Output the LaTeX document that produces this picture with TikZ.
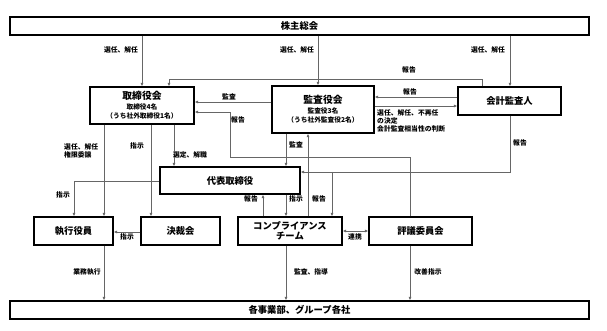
\documentclass[tikz,border=0pt]{standalone}
\usepackage{fontspec}
\setmainfont{Noto Sans CJK JP}
\usetikzlibrary{arrows.meta,calc}
\begin{document}
\begin{tikzpicture}[x=1pt,y=-1pt,
  box/.style={draw=black,line width=1.2pt,fill=white,inner sep=0pt,align=center,font=\bfseries\fontsize{9.3}{11}\selectfont},
  conn/.style={draw=black!60,line width=0.8pt},
  arr/.style={conn,-{Latex[length=3.5pt,width=3pt]}},
  darr/.style={conn,{Latex[length=3.5pt,width=3pt]}-{Latex[length=3.5pt,width=3pt]}},
  lbl/.style={font=\bfseries\fontsize{6.8}{8}\selectfont,inner sep=0pt,align=left}]
\useasboundingbox (0,0) rectangle (607,331);
% boxes
\node[box,minimum width=579pt,minimum height=18pt] (sh) at (299.5,26) {株主総会};
\node[box,minimum width=104pt,minimum height=37pt] (tb) at (142,105.5) {{\fontsize{9.8}{11}\selectfont 取締役会}\\[-1.5pt]{\fontsize{6.7}{8}\selectfont 取締役4名}\\[-1.5pt]{\fontsize{6.7}{8}\selectfont （うち社外取締役1名）}};
\node[box,minimum width=102pt,minimum height=47pt] (ka) at (323,109.5) {{\fontsize{9.8}{11}\selectfont 監査役会}\\[-1.5pt]{\fontsize{6.7}{8}\selectfont 監査役3名}\\[-1.5pt]{\fontsize{6.7}{8}\selectfont （うち社外監査役2名）}};
\node[box,minimum width=103pt,minimum height=28pt] (kk) at (509.5,101) {会計監査人};
\node[box,minimum width=140pt,minimum height=27pt] (dt) at (230,180.5) {代表取締役};
\node[box,minimum width=79pt,minimum height=28pt] (sy) at (73.5,231) {執行役員};
\node[box,minimum width=79pt,minimum height=28pt] (ks) at (180.5,231) {決裁会};
\node[box,minimum width=104pt,minimum height=28pt] (cp) at (290,231) {コンプライアンス\\[-1.5pt]チーム};
\node[box,minimum width=103pt,minimum height=28pt] (hg) at (420.5,231) {評議委員会};
\node[box,minimum width=579pt,minimum height=18pt] (bg) at (299.5,310) {各事業部、グループ各社};
% helper coordinates
\coordinate (x74) at (74,0);
\coordinate (x104) at (104,0);
\coordinate (x151) at (151,0);
\coordinate (x169) at (169,0);
\coordinate (x174) at (174,0);
\coordinate (x230) at (230,0);
\coordinate (x263) at (263,0);
\coordinate (x286) at (286,0);
\coordinate (x308) at (308,0);
\coordinate (x318) at (318,0);
\coordinate (x332) at (332,0);
\coordinate (x410) at (410,0);
\coordinate (x482) at (482,0);
\coordinate (x510) at (510,0);
\coordinate (y79) at (0,79);
\coordinate (y97) at (0,97);
\coordinate (y102) at (0,102);
\coordinate (y106) at (0,106);
\coordinate (y112) at (0,112);
\coordinate (y157) at (0,157);
\coordinate (y172) at (0,172);
\coordinate (y181) at (0,181);
\coordinate (y232) at (0,232);
% shareholders
\draw[arr] (sh.south -| tb.north) -- (tb.north);
\draw[arr] (sh.south -| x318) -- (ka.north -| x318);
\draw[arr] (sh.south -| x510) -- (kk.north -| x510);
% kk report to tb (top)
\draw[arr] (kk.north -| x482) -- (x482 |- y79) -- (x169 |- y79) -- (tb.north -| x169);
% kk <-> ka
\draw[arr] (kk.west |- y97) -- (ka.east |- y97);
\draw[arr] (ka.east |- y106) -- (kk.west |- y106);
% ka -> tb audit
\draw[arr] (ka.west |- y102) -- (tb.east |- y102);
% hg report -> tb
\draw[arr] (hg.north -| x410) -- (x410 |- y157) -- (x230 |- y157) -- (x230 |- y112) -- (tb.east |- y112);
% kk report -> dt and cp
\draw[arr] (kk.south -| x510) -- (x510 |- y172) -- (dt.east |- y172);
\draw[arr] (x332 |- y172) -- (cp.north -| x332);
% tb downward
\draw[arr] (tb.south -| x104) -- (sy.north -| x104);
\draw[arr] (tb.south -| x151) -- (ks.north -| x151);
\draw[arr] (tb.south -| x174) -- (dt.north -| x174);
% ka -> dt
\draw[arr] (ka.south -| x286) -- (dt.north -| x286);
% dt -> sy
\draw[arr] (dt.west |- y181) -- (x74 |- y181) -- (sy.north -| x74);
% ks -> sy
\draw[arr] (ks.west |- y232) -- (sy.east |- y232);
% dt <-> cp
\draw[arr] (cp.north -| x263) -- (dt.south -| x263);
\draw[arr] (dt.south -| x286) -- (cp.north -| x286);
\draw[arr] (cp.north -| x308) -- (ka.south -| x308);
% cp <-> hg
\draw[darr] (cp.east) -- (hg.west);
% to bottom
\draw[arr] (sy.south -| x104) -- (bg.north -| x104);
\draw[arr] (cp.south -| x286) -- (bg.north -| x286);
\draw[arr] (hg.south -| x410) -- (bg.north -| x410);
% labels
\node[lbl] (l1) at (121,50) {選任、解任};
\node[lbl] (l2) at (297,50) {選任、解任};
\node[lbl] (l3) at (488,50) {選任、解任};
\node[lbl] (l4) at (409,70) {報告};
\node[lbl] (l5) at (410,91.5) {報告};
\node[lbl,anchor=north west] (l6) at (377,109) {選任、解任、不再任\\の決定\\会計監査相当性の判断};
\node[lbl] (l7) at (229,97) {監査};
\node[lbl] (l8) at (238,120) {報告};
\node[lbl] (l9) at (520,143) {報告};
\node[lbl,anchor=north west] (l10) at (64,143) {選任、解任\\権限委譲};
\node[lbl] (l11) at (137,146) {指示};
\node[lbl] (l12) at (190,155) {選定、解職};
\node[lbl] (l13) at (296,145) {監査};
\node[lbl] (l14) at (63,195) {指示};
\node[lbl] (l15) at (127,237) {指示};
\node[lbl] (l16) at (251,199) {報告};
\node[lbl] (l17) at (296,199) {指示};
\node[lbl] (l18) at (319,199) {報告};
\node[lbl] (l19) at (355,237) {連携};
\node[lbl] (l20) at (87,272) {業務執行};
\node[lbl] (l21) at (311,272) {監査、指導};
\node[lbl] (l22) at (428,272) {改善指示};
\end{tikzpicture}
\end{document}
